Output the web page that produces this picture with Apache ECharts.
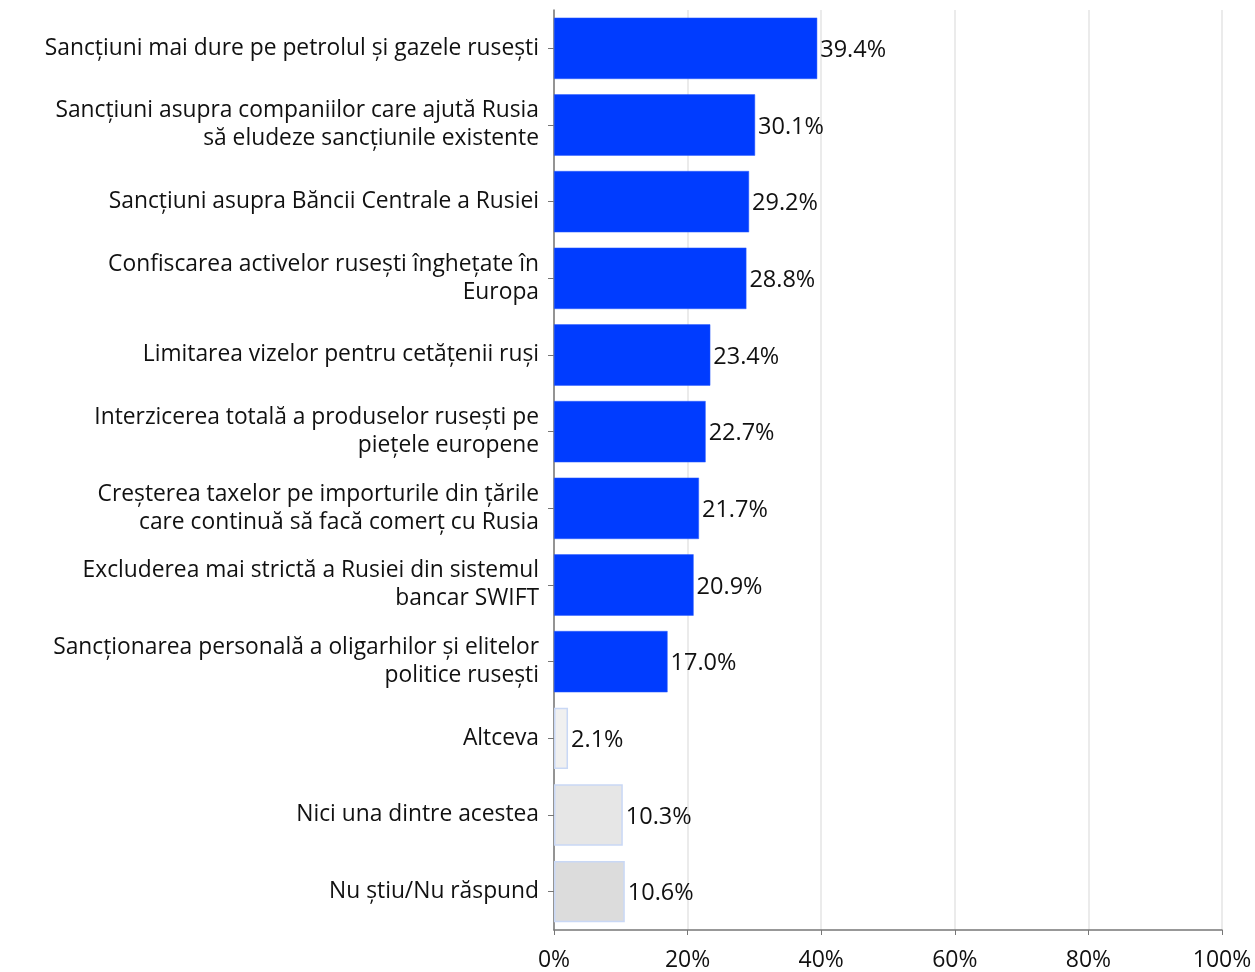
<!DOCTYPE html>
<html>
<head>
<meta charset="utf-8">
<script src="https://cdn.jsdelivr.net/npm/echarts@6/dist/echarts.min.js"></script>
<style>
  html, body { margin: 0; padding: 0; background: #fff; }
  #chart { width: 1255px; height: 972px; }
</style>
</head>
<body>
<div id="chart"></div>
<script>
// categories, top to bottom as in the picture
var categories = [
  "Sancțiuni mai dure pe petrolul și gazele rusești",
  "Sancțiuni asupra companiilor care ajută Rusia\nsă eludeze sancțiunile existente",
  "Sancțiuni asupra Băncii Centrale a Rusiei",
  "Confiscarea activelor rusești înghețate în\nEuropa",
  "Limitarea vizelor pentru cetățenii ruși",
  "Interzicerea totală a produselor rusești pe\npiețele europene",
  "Creșterea taxelor pe importurile din țările\ncare continuă să facă comerț cu Rusia",
  "Excluderea mai strictă a Rusiei din sistemul\nbancar SWIFT",
  "Sancționarea personală a oligarhilor și elitelor\npolitice rusești",
  "Altceva",
  "Nici una dintre acestea",
  "Nu știu/Nu răspund"
]
var values = [39.4, 30.1, 29.2, 28.8, 23.4, 22.7, 21.7, 20.9, 17.0, 2.1, 10.3, 10.6]
var barColors = [
  "#003cff", "#003cff", "#003cff", "#003cff", "#003cff", "#003cff",
  "#003cff", "#003cff", "#003cff", "#f0f0f0", "#e6e6e6", "#dcdcdc"
]
var xTicks = [0, 20, 40, 60, 80, 100]

var chart = echarts.init(document.getElementById("chart"), null, { renderer: "canvas" })

var font = "'Open Sans', 'Noto Sans', sans-serif"

var option = {
  animation: false,
  grid: {
    left: 554,
    right: 33,
    top: 10,
    bottom: 40,
    containLabel: false
  },
  xAxis: {
    type: "value",
    min: xTicks[0],
    max: xTicks[xTicks.length - 1],
    interval: 20,
    axisLine: { show: true, lineStyle: { color: "#777", width: 1.5 } },
    axisTick: { show: true, length: 5, lineStyle: { color: "#777" } },
    splitLine: { show: true, lineStyle: { color: "#e4e4e4", width: 1.5 } },
    axisLabel: {
      formatter: "{value}%",
      color: "#111",
      fontSize: 23,
      fontFamily: font,
      margin: 19
    }
  },
  yAxis: {
    type: "category",
    inverse: true,
    data: categories,
    axisLine: { show: true, lineStyle: { color: "#777", width: 1.5 } },
    axisTick: { show: true, length: 6, alignWithLabel: true, lineStyle: { color: "#777" } },
    axisLabel: {
      color: "#111",
      fontSize: 22.8,
      fontFamily: font,
      lineHeight: 28,
      margin: 15,
      align: "right"
    }
  },
  series: [
    {
      type: "bar",
      barCategoryGap: "20%",
      data: values.map(function (v, i) {
        var gray = i >= 9
        return {
          value: v,
          itemStyle: {
            color: barColors[i],
            borderColor: gray ? "#c9d8f5" : "#2a5cff",
            borderWidth: gray ? 1.5 : 0.5
          }
        }
      }),
      label: {
        show: true,
        position: "right",
        distance: 3,
        offset: [0, 2],
        color: "#111",
        fontSize: 23.5,
        fontFamily: font,
        formatter: function (p) { return p.value.toFixed(1) + "%" }
      }
    }
  ]
}

chart.setOption(option)
</script>
</body>
</html>
